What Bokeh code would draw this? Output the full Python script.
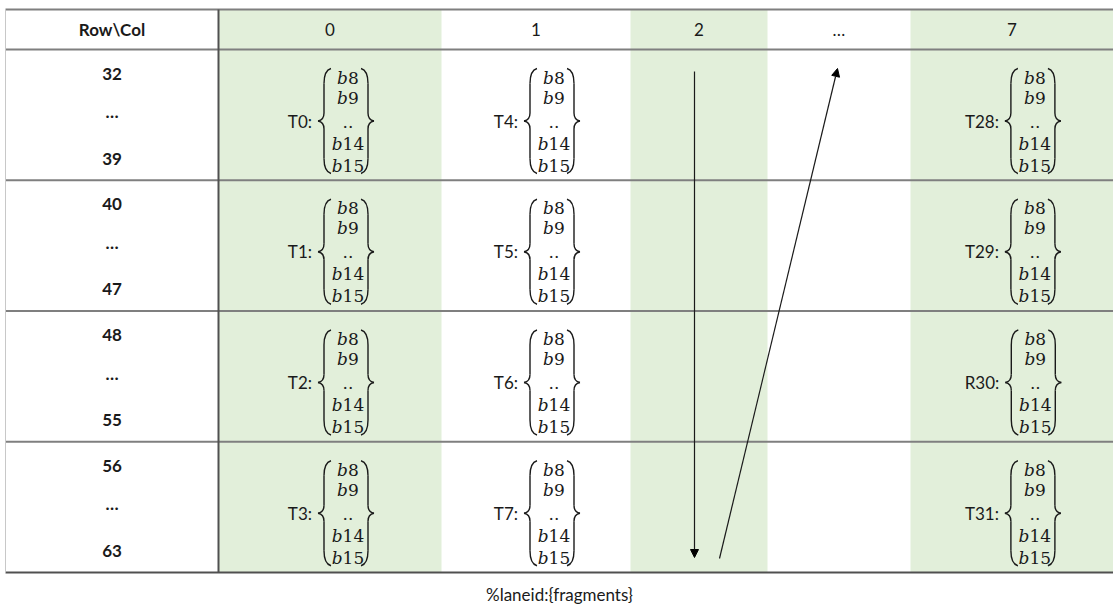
from bokeh.plotting import figure
from bokeh.models import Range1d, Arrow, NormalHead, ColumnDataSource
from bokeh.core.properties import value
from bokeh.embed import file_html
from bokeh.resources import INLINE

# ---------------- data ----------------
corner_label = "Row\\Col"
col_headers = ["0", "1", "2", "…", "7"]
col_green = [True, False, True, False, True]
row_starts = ["32", "40", "48", "56"]
row_ends = ["39", "47", "55", "63"]
thread_labels = [
    ["T0:", "T1:", "T2:", "T3:"],
    ["T4:", "T5:", "T6:", "T7:"],
    [],
    [],
    ["T28:", "T29:", "R30:", "T31:"],
]
fragments = ["b8", "b9", "..", "b14", "b15"]
caption = "%laneid:{fragments}"

# ---------------- layout (pixels) ----------------
W, H = 1113, 613
col_edges = [5, 218, 441, 630, 767, 910, 1113]
table_top, header_bottom, table_bottom = 9, 49, 572
n_rows = len(row_starts)
row_h = (table_bottom - header_bottom) / n_rows
row_tops = [header_bottom + i * row_h for i in range(n_rows)]

SANS = value("Lato")
SERIF = value("DejaVu Serif")
FS = "17px"
SFS = "17px"
GREEN = "#E2EFDA"
INK = "#1a1a1a"

p = figure(width=W, height=H, x_range=Range1d(0, W), y_range=Range1d(H, 0),
           output_backend="svg", toolbar_location=None, min_border=0,
           x_axis_location=None, y_axis_location=None)
p.grid.visible = False
p.outline_line_color = None
p.background_fill_color = "white"
p.border_fill_color = "white"

# green column stripes
gl, gr = [], []
for i, g in enumerate(col_green):
    if g:
        gl.append(col_edges[i + 1]); gr.append(col_edges[i + 2])
p.quad(left=gl, right=gr, top=table_top, bottom=table_bottom, fill_color=GREEN, line_color=None)

# horizontal rules
hy = [table_top, header_bottom] + row_tops[1:]
p.segment(x0=col_edges[0], x1=col_edges[-1], y0=hy, y1=hy, line_color="#7f7f7f", line_width=2)
p.segment(x0=col_edges[0], x1=col_edges[-1], y0=table_bottom, y1=table_bottom, line_color="#505050", line_width=2)
# vertical rules
p.segment(x0=col_edges[1], x1=col_edges[1], y0=table_top, y1=table_bottom, line_color="#505050", line_width=2)
p.segment(x0=col_edges[0], x1=col_edges[0], y0=table_top, y1=table_bottom, line_color="#c8c8c8", line_width=1)

# header texts
col_cx = [(col_edges[i] + col_edges[i + 1]) / 2 for i in range(len(col_edges) - 1)]
hy_c = (table_top + header_bottom) / 2
p.text(x=[col_cx[0]], y=[hy_c], text=[corner_label], text_font=SANS, text_font_size=FS,
       text_font_style="bold", text_align="center", text_baseline="middle", text_color=INK)
p.text(x=col_cx[1:], y=[hy_c] * len(col_headers), text=col_headers, text_font=SANS, text_font_size=FS,
       text_align="center", text_baseline="middle", text_color=INK)

# row labels
rx, ry, rt = [], [], []
for i in range(n_rows):
    t = row_tops[i]
    rx += [col_cx[0]] * 3
    ry += [t + 24, t + 62, t + 109]
    rt += [row_starts[i], "…", row_ends[i]]
p.text(x=rx, y=ry, text=rt, text_font=SANS, text_font_size=FS, text_font_style="bold",
       text_align="center", text_baseline="middle", text_color=INK)

# cells
cw = {"T": 9.6, "R": 10.4, ":": 4.6}
def label_w(s):
    return sum(cw.get(c, 9.8) for c in s)

frag_dy = [28, 48, 72, 94, 116]
em = 10.8
lab_x, lab_y, lab_t = [], [], []
b_x, b_y, n_x, n_y, n_t, d_x, d_y = [], [], [], [], [], [], []
q = dict(x0=[], y0=[], x1=[], y1=[], cx=[], cy=[])
s_ = dict(x0=[], y0=[], x1=[], y1=[])

def brace(xs, s, top, mid, bot):
    xt = xs - 6 * s
    xh = xs + 7 * s
    for a in [(xh, top, xs, top + 15, xs, top + 2),
              (xs, mid - 8, xt, mid, xs, mid - 1),
              (xt, mid, xs, mid + 8, xs, mid + 1),
              (xs, bot - 15, xh, bot, xs, bot - 2)]:
        for k, v in zip(["x0", "y0", "x1", "y1", "cx", "cy"], a):
            q[k].append(v)
    for a in [(xs, top + 15, xs, mid - 8), (xs, mid + 8, xs, bot - 15)]:
        for k, v in zip(["x0", "y0", "x1", "y1"], a):
            s_[k].append(v)

for ci, labels in enumerate(thread_labels):
    cx = col_cx[ci + 1]
    for ri, lab in enumerate(labels):
        t = row_tops[ri]
        wl = label_w(lab)
        E = cx - (wl + 60) / 2 + wl
        mid = t + 71.5
        lab_x.append(E); lab_y.append(mid); lab_t.append(lab)
        ce = E + 36
        for f, dy in zip(fragments, frag_dy):
            if f.startswith("b"):
                nd = len(f) - 1
                xb = ce - em * (1 + nd) / 2 + em
                b_x.append(xb); b_y.append(t + dy)
                n_x.append(xb); n_y.append(t + dy); n_t.append(f[1:])
            else:
                d_x.append(ce); d_y.append(t + dy)
        brace(E + 12, 1, t + 19, mid, t + 124)
        brace(E + 56, -1, t + 19, mid, t + 124)

p.text(x=lab_x, y=lab_y, text=lab_t, text_font=SANS, text_font_size=FS, text_align="right",
       text_baseline="middle", text_color=INK)
p.text(x=b_x, y=b_y, text=["b"] * len(b_x), text_font=SERIF, text_font_size=SFS,
       text_font_style="italic", text_align="right", text_baseline="middle", text_color=INK)
p.text(x=n_x, y=n_y, text=n_t, text_font=SERIF, text_font_size=SFS,
       text_align="left", text_baseline="middle", text_color=INK)
p.text(x=d_x, y=d_y, text=[".."] * len(d_x), text_font=SERIF, text_font_size=SFS,
       text_align="center", text_baseline="alphabetic", text_color=INK)
p.quadratic(source=ColumnDataSource(q), x0="x0", y0="y0", x1="x1", y1="y1", cx="cx", cy="cy",
            line_color=INK, line_width=1.4)
p.segment(source=ColumnDataSource(s_), x0="x0", y0="y0", x1="x1", y1="y1", line_color=INK, line_width=1.4)

# traversal arrows
c2 = col_cx[3]
cd = col_cx[4]
p.add_layout(Arrow(end=NormalHead(size=8, fill_color="black", line_color="black"),
                   x_start=c2 - 4.5, y_start=row_tops[0] + 22, x_end=c2 - 4.5, y_end=table_bottom - 15,
                   line_color=INK, line_width=1.2))
p.add_layout(Arrow(end=NormalHead(size=8, fill_color="black", line_color="black"),
                   x_start=c2 + 20.5, y_start=table_bottom - 14, x_end=cd - 1.5, y_end=row_tops[0] + 19,
                   line_color=INK, line_width=1.2))

# caption
p.text(x=[(col_edges[0] + col_edges[-1]) / 2], y=[594], text=[caption], text_font=SANS, text_font_size=FS,
       text_align="center", text_baseline="middle", text_color=INK)

open("out.html", "w").write(file_html(p, INLINE))
